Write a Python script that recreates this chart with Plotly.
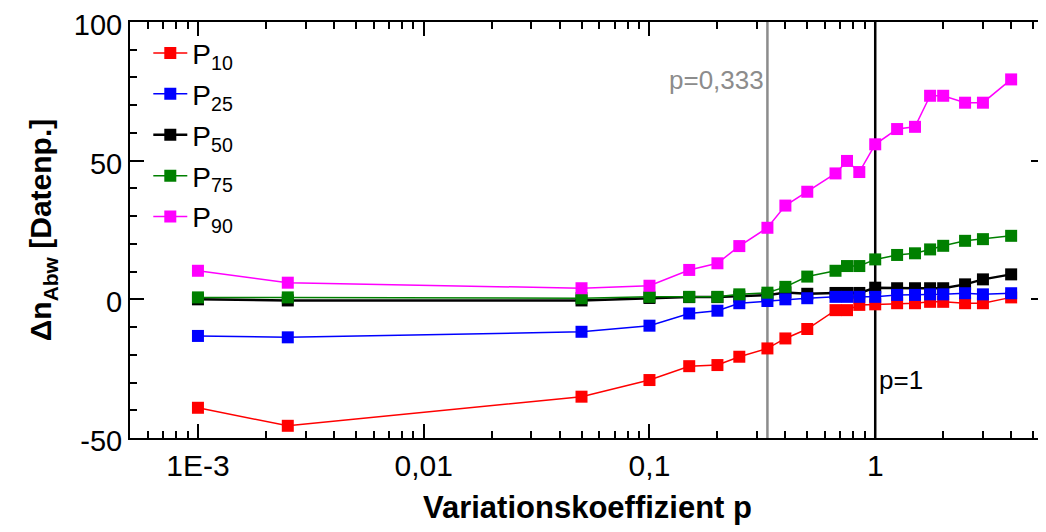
import math
import plotly.graph_objects as go

# ---- data ----
p = [0.001, 0.0025, 0.05, 0.1, 0.15, 0.2, 0.25, 0.333, 0.4, 0.5, 0.667, 0.75, 0.85,
     1, 1.25, 1.5, 1.75, 2, 2.5, 3, 4]
P10 = [-39.1, -45.6, -35.1, -29.1, -24.1, -23.7, -20.7, -17.7, -14.1, -10.7, -3.9, -3.9, -2.0,
       -1.8, -1.4, -1.4, -0.9, -0.9, -1.4, -1.4, 0.7]
P25 = [-13.2, -13.7, -11.7, -9.5, -5.1, -4.1, -1.4, -0.6, 0.0, 0.4, 0.9, 0.9, 0.9,
       0.9, 1.6, 1.6, 1.8, 1.8, 2.2, 1.8, 2.2]
P50 = [0.0, -0.4, -0.4, 0.5, 0.8, 0.8, 1.0, 1.5, 2.5, 2.0, 2.3, 2.3, 2.3,
       4.2, 4.0, 4.0, 4.0, 4.0, 5.4, 7.2, 9.0]
P75 = [0.7, 0.7, 0.4, 0.9, 0.9, 0.9, 1.8, 2.4, 4.5, 8.2, 10.3, 12.0, 12.0,
       14.4, 16.0, 16.6, 18.0, 19.3, 21.1, 21.7, 22.9]
P90 = [10.3, 6.0, 4.0, 4.9, 10.6, 13.0, 19.2, 25.8, 33.8, 38.8, 45.4, 49.9, 45.9,
       55.9, 61.4, 62.2, 73.4, 73.4, 70.9, 70.9, 79.3]

series_names = ["P<sub>10</sub>", "P<sub>25</sub>", "P<sub>50</sub>", "P<sub>75</sub>", "P<sub>90</sub>"]
series_values = [P10, P25, P50, P75, P90]
series_colors = ["#ff0000", "#0000ff", "#000000", "#008000", "#ff00ff"]
series_widths = [1.5, 1.5, 2.5, 1.5, 1.5]
draw_order = [0, 2, 1, 3, 4]

x_tickvals = [0.001, 0.01, 0.1, 1]
x_ticktext = ["1E-3", "0,01", "0,1", "1"]
x_minor = [6e-4, 7e-4, 8e-4, 9e-4] + [k * 1e-3 for k in range(2, 10)] + \
          [k * 1e-2 for k in range(2, 10)] + [k * 1e-1 for k in range(2, 10)] + [2, 3, 4, 5]
y_tickvals = [-50, 0, 50, 100]
y_ticktext = ["-50", "0", "50", "100"]

ref_lines = [(0.333, "#8c8c8c", 2.5, "p=0,333", 79, "right"),
             (1.0, "#000000", 2.5, "p=1", -29, "left")]

FONT = "Liberation Sans, Arial, sans-serif"
X_RANGE = [-3.301, 0.752]
Y_RANGE = [-50, 100]

fig = go.Figure()
for i in draw_order:
    fig.add_trace(go.Scatter(
        x=p, y=series_values[i], name=series_names[i], mode="lines+markers",
        line=dict(color=series_colors[i], width=series_widths[i]),
        marker=dict(symbol="square", size=12, color=series_colors[i], line=dict(width=0)),
        legendgroup=str(i), legendrank=i + 1,
    ))

for xv, col, w, label, ly, anchor in ref_lines:
    fig.add_shape(type="line", xref="x", yref="paper", x0=xv, x1=xv, y0=0, y1=1,
                  line=dict(color=col, width=w), layer="below")
    fig.add_annotation(x=math.log10(xv), xref="x", y=ly, yref="y", text=label,
                       showarrow=False, xanchor=anchor, yanchor="middle",
                       xshift=-1 if anchor == "right" else 2,
                       font=dict(family=FONT, size=26, color=col))

tick_style = dict(ticks="inside", tickcolor="black", tickwidth=2, ticklen=14,
                  showgrid=False, zeroline=False, showline=True, linecolor="black",
                  linewidth=2, mirror="ticks", ticklabeloverflow="allow")
minor_style = dict(ticks="inside", ticklen=7, tickwidth=2, tickcolor="black", showgrid=False)

fig.update_layout(
    xaxis=dict(type="log", range=X_RANGE, tickmode="array", tickvals=x_tickvals,
               ticktext=x_ticktext, tickfont=dict(family=FONT, size=30, color="black"),
               minor=dict(tickmode="array", tickvals=x_minor, **minor_style),
               title=dict(text="<b>Variationskoeffizient p</b>", standoff=15,
                          font=dict(family=FONT, size=31, color="black")),
               **tick_style),
    yaxis=dict(range=Y_RANGE, tickmode="array", tickvals=y_tickvals, ticktext=y_ticktext,
               tickfont=dict(family=FONT, size=29, color="black"), ticklabelshift=3,
               minor=dict(dtick=10, tick0=0, **minor_style),
               title=dict(text="<b>Δn<sub>Abw</sub> [Datenp.]</b>", standoff=13,
                          font=dict(family=FONT, size=30, color="black")),
               **tick_style),
    width=1038, height=524,
    margin=dict(l=122, r=1, t=14, b=94, autoexpand=False),
    paper_bgcolor="white", plot_bgcolor="white",
    showlegend=True,
    legend=dict(x=0.02, y=0.985, xanchor="left", yanchor="top",
                bgcolor="rgba(0,0,0,0)", borderwidth=0, tracegroupgap=1.5,
                font=dict(family=FONT, size=28, color="black"), itemwidth=34),
    font=dict(family=FONT, color="black"),
)

fig.write_html("out.html")
